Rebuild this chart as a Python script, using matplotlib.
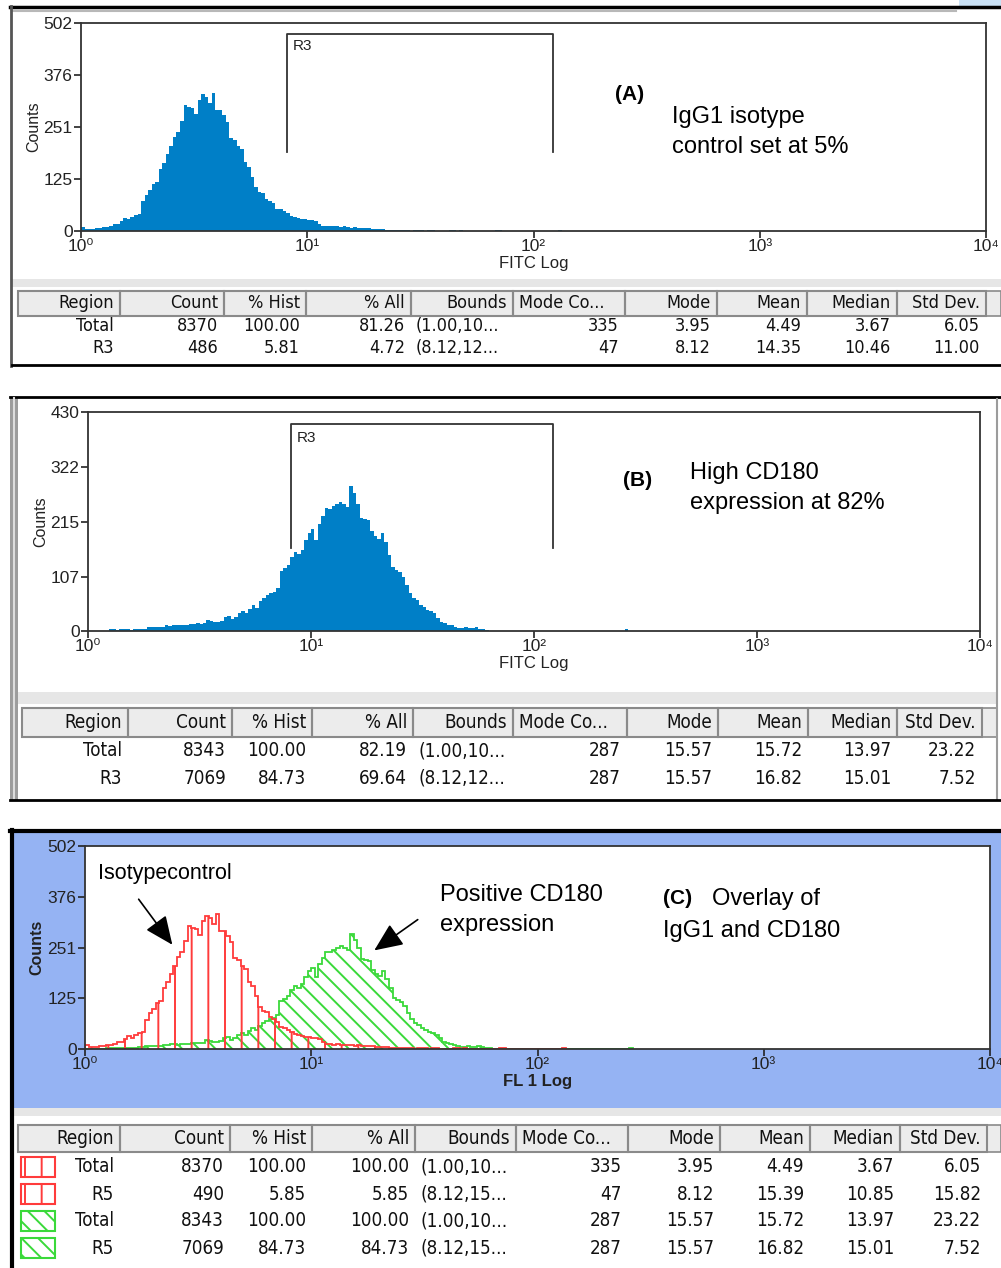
"""Flow cytometry CD180 histograms: isotype control, CD180 stain, and overlay with stats tables."""

import matplotlib
matplotlib.use("Agg")
import matplotlib.pyplot as plt
import numpy as np
from matplotlib import font_manager
from matplotlib.patches import FancyArrowPatch, Rectangle
from matplotlib.ticker import NullLocator

W, H = 1001, 1268
CH_PER_DECADE = 64  # 256 channels over 4 decades

# counts per channel (channel 0 starts at 10^0)
ISOTYPE_COUNTS = [
    10, 6, 5, 6, 8, 8, 10, 10, 12, 17,
    18, 24, 32, 28, 34, 39, 42, 72, 88, 100,
    113, 118, 150, 165, 185, 206, 228, 240, 266, 305,
    300, 297, 282, 316, 330, 324, 309, 333, 292, 292,
    280, 264, 224, 220, 206, 198, 166, 155, 130, 105,
    95, 91, 78, 73, 68, 54, 52, 48, 43, 37,
    34, 32, 30, 29, 27, 26, 24, 18, 13, 12,
    11, 12, 11, 10, 11, 10, 8, 9, 7, 8,
    7, 8, 6, 6, 4, 5, 3, 3, 2, 3,
    2, 3, 2, 0, 2, 2, 2, 0, 2, 2,
    0, 1, 0, 0, 2, 2, 0, 2,
]
ISOTYPE_TAIL_CH = [117, 118, 135]
ISOTYPE_TAIL_N = [2, 2, 2]

CD180_COUNTS = [
    0, 0, 0, 0, 0, 0, 3, 3, 2, 3,
    3, 3, 2, 3, 3, 4, 4, 7, 8, 8,
    8, 8, 11, 10, 12, 12, 11, 12, 12, 13,
    14, 15, 14, 16, 22, 19, 17, 18, 20, 28,
    30, 23, 28, 35, 40, 35, 44, 51, 46, 58,
    64, 70, 75, 77, 85, 118, 123, 130, 145, 155,
    152, 160, 178, 192, 200, 178, 210, 226, 241, 240,
    246, 250, 254, 250, 244, 285, 270, 250, 222, 219,
    218, 196, 186, 180, 192, 174, 150, 125, 120, 116,
    106, 90, 74, 64, 60, 52, 47, 41, 39, 35,
    26, 18, 15, 12, 11, 8, 6, 5, 8, 5,
    6, 7, 4, 3, 2,
]
CD180_TAIL_CH = [154]
CD180_TAIL_N = [3]

# gate R3: (low, high) FITC bounds and the drawn marker heights
GATE_BOUNDS = [8.12, 122.0]
GATE_A_HEIGHTS = [191, 475]
GATE_B_HEIGHTS = [163, 406]

YTICKS_A = [0, 125, 251, 376, 502]
YTICKS_B = [0, 107, 215, 322, 430]
XTICKS = [1, 10, 100, 1000, 10000]
XTICK_LABELS = ["10\u2070", "10\u00b9", "10\u00b2", "10\u00b3", "10\u2074"]

COLUMNS = ["Region", "Count", "% Hist", "% All", "Bounds", "Mode Co...",
           "Mode", "Mean", "Median", "Std Dev."]
TABLE_A = [
    ["Total", "8370", "100.00", "81.26", "(1.00,10...", "335", "3.95", "4.49", "3.67", "6.05"],
    ["R3", "486", "5.81", "4.72", "(8.12,12...", "47", "8.12", "14.35", "10.46", "11.00"],
]
TABLE_B = [
    ["Total", "8343", "100.00", "82.19", "(1.00,10...", "287", "15.57", "15.72", "13.97", "23.22"],
    ["R3", "7069", "84.73", "69.64", "(8.12,12...", "287", "15.57", "16.82", "15.01", "7.52"],
]
TABLE_C = [
    ["Total", "8370", "100.00", "100.00", "(1.00,10...", "335", "3.95", "4.49", "3.67", "6.05"],
    ["R5", "490", "5.85", "5.85", "(8.12,15...", "47", "8.12", "15.39", "10.85", "15.82"],
    ["Total", "8343", "100.00", "100.00", "(1.00,10...", "287", "15.57", "15.72", "13.97", "23.22"],
    ["R5", "7069", "84.73", "84.73", "(8.12,15...", "287", "15.57", "16.82", "15.01", "7.52"],
]
TABLE_C_GROUP = ["iso", "iso", "cd180", "cd180"]

BLUE = "#007fc7"
RED = "#ff3b3b"
GREEN = "#3ad93a"
PANEL_BG = "#95b3f3"

plt.rcParams["font.family"] = ["Liberation Sans", "DejaVu Sans"]
plt.rcParams["hatch.linewidth"] = 1.4

_names = {f.name for f in font_manager.fontManager.ttflist}
if "Liberation Sans Narrow" in _names:
    TFONT = dict(family=["Liberation Sans Narrow", "DejaVu Sans"])
else:
    TFONT = dict(family=["DejaVu Sans"], stretch="condensed")


def channels(counts, tail_ch, tail_n):
    n = max(len(counts), max(tail_ch) + 1)
    arr = np.zeros(n)
    arr[: len(counts)] = counts
    arr[tail_ch] = tail_n
    edges = 10 ** (np.arange(n + 1) / CH_PER_DECADE)
    return arr, edges


def px_axes(fig, x0, y0, x1, y1, **kw):
    return fig.add_axes([x0 / W, 1 - y1 / H, (x1 - x0) / W, (y1 - y0) / H], **kw)


def hist_axes(fig, box, yticks, xlabel, bold=False):
    ax = px_axes(fig, *box, zorder=2)
    ax.set_xscale("log")
    ax.set_xlim(1, 1e4)
    ax.set_ylim(0, yticks[-1])
    ax.set_xticks(XTICKS)
    ax.set_xticklabels(XTICK_LABELS)
    ax.xaxis.set_minor_locator(NullLocator())
    ax.set_yticks(yticks)
    ax.tick_params(direction="out", length=5, width=1.2, colors="#222222",
                   labelsize=12.5, pad=1)
    for s in ax.spines.values():
        s.set_color("#333333")
        s.set_linewidth(1.3)
    w = "bold" if bold else "normal"
    ax.set_xlabel(xlabel, fontsize=12, labelpad=1, color="#222222", fontweight=w)
    ax.set_ylabel("Counts", fontsize=11.5, labelpad=2, color="#222222", fontweight=w)
    return ax


def draw_table(ax, left, right, top, head_h, row_y, edges, rows, fs, swatches=None):
    ax.add_patch(Rectangle((left, top), right - left, head_h, fc="#ececec",
                           ec="#8a8a8a", lw=1.2))
    prev = left
    for name, e in zip(COLUMNS, edges):
        ax.add_patch(Rectangle((prev, top), e - prev, head_h, fc="none",
                               ec="#8a8a8a", lw=1.5))
        if name.startswith("Mode Co"):
            ax.text(prev + 6, top + head_h / 2, name, ha="left", va="center",
                    fontsize=fs, color="#111111", **TFONT)
        else:
            ax.text(e - 6, top + head_h / 2, name, ha="right", va="center",
                    fontsize=fs, color="#111111", **TFONT)
        prev = e
    for i, (yc, row) in enumerate(zip(row_y, rows)):
        prev = left
        for name, val, e in zip(COLUMNS, row, edges):
            if name == "Bounds":
                ax.text(prev + 5, yc, val, ha="left", va="center", fontsize=fs,
                        color="#111111", **TFONT)
            else:
                ax.text(e - 6, yc, val, ha="right", va="center", fontsize=fs,
                        color="#111111", **TFONT)
            prev = e
        if swatches is not None:
            col = RED if swatches[i] == "iso" else GREEN
            hatch = "|" if swatches[i] == "iso" else "\\\\"
            ax.add_patch(Rectangle((21, yc - 10), 34, 20, fc="white", ec=col,
                                   lw=1.5, hatch=hatch))


def main():
    iso, iso_edges = channels(ISOTYPE_COUNTS, ISOTYPE_TAIL_CH, ISOTYPE_TAIL_N)
    cd, cd_edges = channels(CD180_COUNTS, CD180_TAIL_CH, CD180_TAIL_N)

    fig = plt.figure(figsize=(W / 100, H / 100), dpi=100)
    under = fig.add_axes([0, 0, 1, 1], zorder=0)
    under.set_xlim(0, W)
    under.set_ylim(H, 0)
    under.axis("off")

    # ---- panel frames ----
    # A
    under.add_patch(Rectangle((12, 9), W, 356, fc="white", ec="none"))
    under.plot([10, W], [7, 7], color="black", lw=2.5)
    under.plot([12, W - 45], [10.5, 10.5], color="#b8b8b8", lw=1.5)
    under.plot([11, 11], [6, 366], color="#555555", lw=2)
    under.add_patch(Rectangle((12, 279), W, 8, fc="#e6e6e6", ec="none"))
    under.plot([12, W], [365, 365], color="black", lw=2)
    under.add_patch(Rectangle((W - 42, 0), 42, 9, fc="#c9e1f5", ec="none"))
    # B
    under.plot([10, W], [397, 397], color="black", lw=2)
    under.add_patch(Rectangle((10, 398), 8, 402, fc="#9c9c9c", ec="none"))
    under.plot([14, 14], [398, 800], color="#dddddd", lw=1.5)
    under.plot([997, 997], [399, 800], color="#9c9c9c", lw=1.5)
    under.add_patch(Rectangle((18, 692), 979, 12, fc="#e6e6e6", ec="none"))
    under.plot([10, W], [800, 800], color="black", lw=2)
    # C
    under.add_patch(Rectangle((13, 833), W, 275, fc=PANEL_BG, ec="none"))
    under.add_patch(Rectangle((13, 1108), W, 8, fc="#e6e6e6", ec="none"))
    under.plot([10, W], [831, 831], color="black", lw=3)
    under.plot([11.5, 11.5], [830, H], color="black", lw=3)

    # ---- tables ----
    draw_table(under, 18, W, 291, 25, [326, 348],
               [120, 224, 306, 411, 513, 625, 717, 807, 897, 986], TABLE_A, 13)
    draw_table(under, 22, 997, 708, 29, [751, 778],
               [128, 232, 312, 413, 513, 627, 718, 808, 897, 982], TABLE_B, 13.5)
    draw_table(under, 18, W, 1125, 27, [1167, 1194, 1221, 1248],
               [120, 230, 312, 415, 516, 628, 720, 810, 900, 987], TABLE_C, 13.5,
               swatches=TABLE_C_GROUP)

    # ---- panel A ----
    ax = hist_axes(fig, (81, 23, 986, 231), YTICKS_A, "FITC Log")
    ax.stairs(iso, iso_edges, fill=True, color=BLUE, lw=0)
    ax.plot([GATE_BOUNDS[0], GATE_BOUNDS[0], GATE_BOUNDS[1], GATE_BOUNDS[1]],
            [GATE_A_HEIGHTS[0], GATE_A_HEIGHTS[1], GATE_A_HEIGHTS[1], GATE_A_HEIGHTS[0]],
            color="#333333", lw=1.3)
    ax.text(8.6, 446, "R3", fontsize=11, va="center", ha="left", color="#222222")

    # ---- panel B ----
    ax = hist_axes(fig, (88, 412, 980, 631), YTICKS_B, "FITC Log")
    ax.stairs(cd, cd_edges, fill=True, color=BLUE, lw=0)
    ax.plot([GATE_BOUNDS[0], GATE_BOUNDS[0], GATE_BOUNDS[1], GATE_BOUNDS[1]],
            [GATE_B_HEIGHTS[0], GATE_B_HEIGHTS[1], GATE_B_HEIGHTS[1], GATE_B_HEIGHTS[0]],
            color="#333333", lw=1.3)
    ax.text(8.6, 379, "R3", fontsize=11, va="center", ha="left", color="#222222")

    # ---- panel C overlay ----
    ax = hist_axes(fig, (85, 846, 990, 1049), YTICKS_A, "FL 1 Log", bold=True)
    ax.stairs(cd, cd_edges, fill=True, facecolor="none", edgecolor=GREEN,
              hatch="\\\\", lw=0)
    ax.stairs(cd, cd_edges, color=GREEN, lw=1.3)
    ax.stairs(iso, iso_edges, fill=True, facecolor="none", edgecolor=RED,
              hatch="|", lw=0)
    ax.stairs(iso, iso_edges, color=RED, lw=1.3)

    # ---- annotations ----
    over = fig.add_axes([0, 0, 1, 1], zorder=5)
    over.set_xlim(0, W)
    over.set_ylim(H, 0)
    over.axis("off")
    over.patch.set_visible(False)

    over.text(630, 95, "(A)", fontsize=15, fontweight="bold", ha="center", va="center")
    over.text(672, 117, "IgG1 isotype", fontsize=17, va="center")
    over.text(672, 147, "control set at 5%", fontsize=17, va="center")

    over.text(638, 481, "(B)", fontsize=15, fontweight="bold", ha="center", va="center")
    over.text(690, 473, "High CD180", fontsize=17, va="center")
    over.text(690, 503, "expression at 82%", fontsize=17, va="center")

    over.text(98, 873, "Isotypecontrol", fontsize=15.5, va="center")
    over.text(440, 895, "Positive CD180", fontsize=17, va="center")
    over.text(440, 925, "expression", fontsize=17, va="center")
    over.text(663, 899, "(C)", fontsize=15, fontweight="bold", va="center")
    over.text(712, 899, "Overlay of", fontsize=17, va="center")
    over.text(663, 931, "IgG1 and CD180", fontsize=17, va="center")

    for start, end in [((137, 897), (174, 947)), ((420, 918), (372, 952))]:
        over.add_patch(FancyArrowPatch(start, end, color="black", lw=1.2,
                                       arrowstyle="-|>,head_length=0.8,head_width=0.35",
                                       mutation_scale=22))

    fig.savefig("out.png", dpi=100)


if __name__ == "__main__":
    main()
